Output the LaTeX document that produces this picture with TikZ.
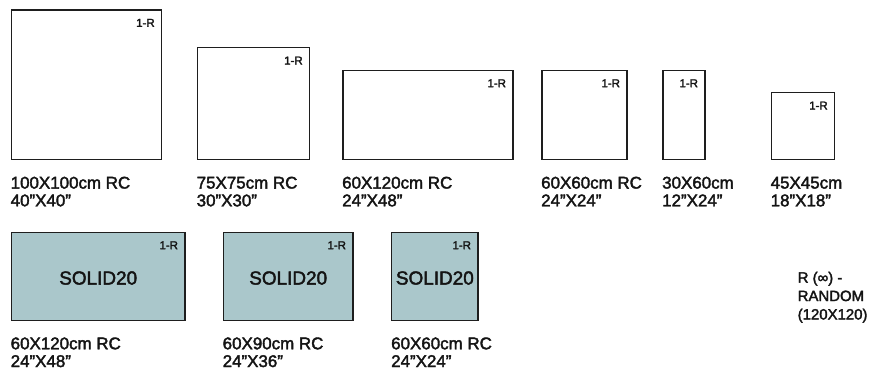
\documentclass[tikz,border=0pt]{standalone}
\usepackage{fontspec}
\setmainfont{Liberation Sans}[UprightFeatures={FakeBold=2.2}]
\usetikzlibrary{calc}
\definecolor{tilefill}{RGB}{170,199,203}
\definecolor{edge}{RGB}{30,30,30}
\definecolor{ink}{RGB}{20,20,20}
\begin{document}
\begin{tikzpicture}[x=1bp,y=-1bp,
  tile/.style={draw=edge, line width=1.4bp, rectangle, inner sep=0pt, anchor=north west},
  solidtile/.style={tile, fill=tilefill},
  tag/.style={font=\fontsize{11.5}{12}\selectfont, inner sep=0pt, anchor=base east, text=ink},
  sizelabel/.style={font=\fontsize{17}{17.8}\selectfont, inner sep=0pt, anchor=base west, align=left, text=ink},
  solidtext/.style={font=\fontsize{19}{20}\selectfont, inner sep=0pt, text=ink},
  note/.style={font=\fontsize{15}{18.5}\selectfont, inner sep=0pt, anchor=base west, align=left, text=ink}]
\useasboundingbox (0,0) rectangle (885,373);
% top row tiles
\node[tile, minimum width=150.5bp, minimum height=149.7bp] (t1) at (10.5,9.3) {};
\node[tile, minimum width=112bp, minimum height=112bp] (t2) at (197,47) {};
\node[tile, minimum width=170bp, minimum height=89.3bp] (t3) at (342.3,69.7) {};
\node[tile, minimum width=85bp, minimum height=89.3bp] (t4) at (541.3,69.7) {};
\node[tile, minimum width=42bp, minimum height=89.3bp] (t5) at (662.3,69.7) {};
\node[tile, minimum width=63.3bp, minimum height=67bp] (t6) at (770.7,92) {};
% bottom row tiles
\node[solidtile, minimum width=173.6bp, minimum height=88.3bp] (b1) at (10.7,231.7) {};
\node[solidtile, minimum width=129.6bp, minimum height=88.3bp] (b2) at (222.7,231.7) {};
\node[solidtile, minimum width=86.3bp, minimum height=88.3bp] (b3) at (391,231.7) {};
% 1-R tags
\foreach \t in {t1,t2,t3,t4,t5,t6,b1,b2,b3}{
  \node[tag] (tag-\t) at ($(\t.north east)+(-7.5,17.5)$) {1-R};
}
% SOLID20
\node[solidtext] (s1) at ($(b1.center)+(0,1.5)$) {SOLID20};
\node[solidtext] (s2) at ($(b2.center)+(0,1.5)$) {SOLID20};
\node[solidtext] (s3) at ($(b3.center)+(0,1.5)$) {SOLID20};
% size labels (anchor = baseline of last line)
\node[sizelabel] (l1) at (10.5,206.3) {100X100cm RC\\40”X40”};
\node[sizelabel] (l2) at (196.5,206.3) {75X75cm RC\\30”X30”};
\node[sizelabel] (l3) at (342,206.3) {60X120cm RC\\24”X48”};
\node[sizelabel] (l4) at (541,206.3) {60X60cm RC\\24”X24”};
\node[sizelabel] (l5) at (662,206.3) {30X60cm\\12”X24”};
\node[sizelabel] (l6) at (770.5,206.3) {45X45cm\\18”X18”};
\node[sizelabel] (l7) at (10.5,367) {60X120cm RC\\24”X48”};
\node[sizelabel] (l8) at (222.5,367) {60X90cm RC\\24”X36”};
\node[sizelabel] (l9) at (391,367) {60X60cm RC\\24”X24”};
\node[note] (rnote) at (797.5,319.5) {R (∞) -\\RANDOM\\(120X120)};
\end{tikzpicture}
\end{document}
